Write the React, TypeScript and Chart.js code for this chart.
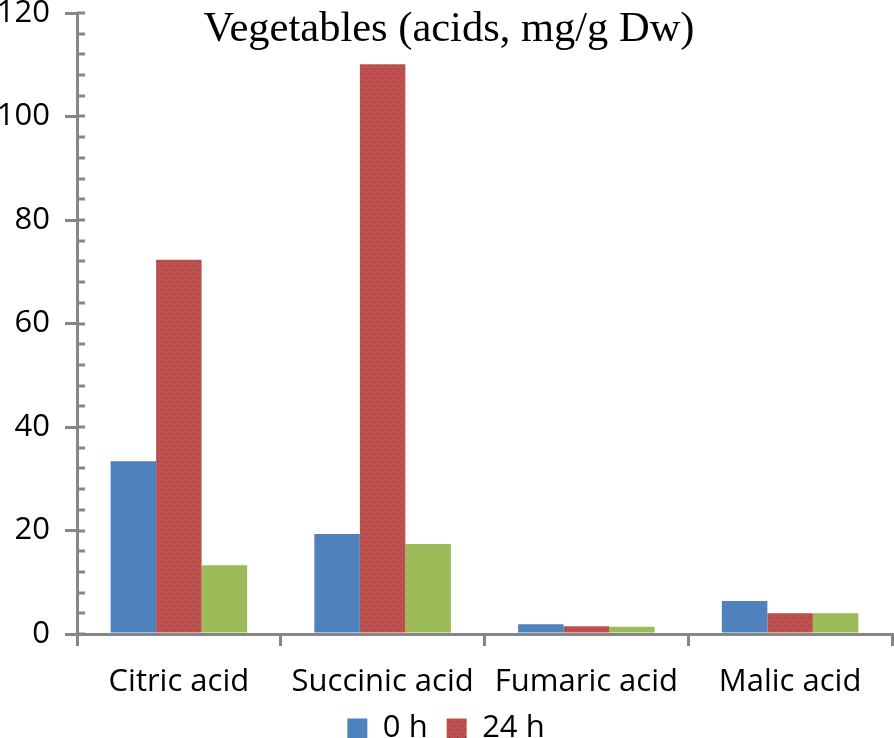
import React, { useEffect, useRef } from "react";
import { Chart, registerables } from "chart.js";

Chart.register(...registerables);

const categories = ["Citric acid", "Succinic acid", "Fumaric acid", "Malic acid"];
const seriesLabels = ["0 h", "24 h", "48 h"];
const values0h = [33.4, 19.3, 1.9, 6.4];
const values24h = [72.3, 110.1, 1.5, 4.0];
const values48h = [13.3, 17.4, 1.4, 4.0];
const yMin = 0;
const yMax = 120;
const yStep = 20;
const yMinorStep = 4;
const titleText = "Vegetables (acids, mg/g Dw)";

const BLUE = "#4F81BD";
const RED = "#C0504D";
const GREEN = "#9BBB59";
const AXIS = "#868686";
const LABEL_FONT = "'Open Sans', sans-serif";

function makePattern(bg: string, dot: string): CanvasPattern | string {
  const c = document.createElement("canvas");
  c.width = 8;
  c.height = 8;
  const g = c.getContext("2d");
  if (!g) return bg;
  g.fillStyle = bg;
  g.fillRect(0, 0, 8, 8);
  g.fillStyle = dot;
  g.fillRect(1, 1, 1, 1);
  g.fillRect(5, 5, 1, 1);
  const p = g.createPattern(c, "repeat");
  return p || bg;
}

const minorTicksPlugin = {
  id: "minorTicks",
  afterDatasetsDraw(chart: any) {
    const y = chart.scales.y;
    const area = chart.chartArea;
    const ctx = chart.ctx;
    ctx.save();
    ctx.strokeStyle = AXIS;
    ctx.lineWidth = 3;
    for (let v = yMin; v <= yMax; v += yMinorStep) {
      const py = Math.round(y.getPixelForValue(v));
      ctx.beginPath();
      ctx.moveTo(area.left, py);
      ctx.lineTo(area.left + 8, py);
      ctx.stroke();
    }
    ctx.restore();
  },
};

const titlePlugin = {
  id: "innerTitle",
  afterDraw(chart: any) {
    const ctx = chart.ctx;
    ctx.save();
    ctx.fillStyle = "#000";
    ctx.font = "42.5px 'Liberation Serif', 'Times New Roman', serif";
    ctx.textAlign = "center";
    ctx.textBaseline = "alphabetic";
    ctx.fillText(titleText, chart.width / 2 + 2, 41);
    ctx.restore();
  },
};

export default function App() {
  const ref = useRef<HTMLCanvasElement | null>(null);

  useEffect(() => {
    document.body.style.margin = "0";
    const canvas = ref.current;
    if (!canvas) return;
    const redPattern = makePattern(RED, "#2b4548");
    const chart = new Chart(canvas, {
      type: "bar",
      data: {
        labels: categories,
        datasets: [
          { label: seriesLabels[0], data: values0h, backgroundColor: BLUE, borderWidth: 0 },
          { label: seriesLabels[1], data: values24h, backgroundColor: redPattern as any, borderWidth: 0 },
          { label: seriesLabels[2], data: values48h, backgroundColor: GREEN, borderWidth: 0 },
        ],
      },
      options: {
        responsive: false,
        animation: false,
        devicePixelRatio: 1,
        layout: { padding: { top: 0, right: 2, left: 0, bottom: 0 } },
        datasets: { bar: { categoryPercentage: 0.67, barPercentage: 1.0 } },
        plugins: {
          title: { display: false },
          tooltip: { enabled: false },
          legend: {
            display: true,
            position: "bottom",
            labels: {
              boxWidth: 20,
              boxHeight: 20,
              padding: 19,
              color: "#000",
              font: { family: LABEL_FONT, size: 31 },
              filter: (item: any) => item.datasetIndex < 2,
            },
          },
        },
        scales: {
          x: {
            afterFit: (s: any) => {
              s.height = 60;
            },
            grid: {
              display: true,
              drawOnChartArea: false,
              drawTicks: true,
              tickLength: 12,
              color: AXIS,
              lineWidth: 3,
              offset: true,
            },
            border: { display: true, color: AXIS, width: 3 },
            ticks: {
              color: "#000",
              padding: 18,
              maxRotation: 0,
              autoSkip: false,
              font: { family: LABEL_FONT, size: 31 },
            },
          },
          y: {
            min: yMin,
            max: yMax,
            afterFit: (s: any) => {
              s.width = 77;
              s.paddingTop = 13;
              s.paddingBottom = 0;
            },
            grid: {
              display: true,
              drawOnChartArea: false,
              drawTicks: true,
              tickLength: 12,
              color: AXIS,
              lineWidth: 3,
            },
            border: { display: true, color: AXIS, width: 3 },
            ticks: {
              stepSize: yStep,
              color: "#000",
              padding: 15,
              font: { family: LABEL_FONT, size: 31 },
            },
          },
        },
      },
      plugins: [minorTicksPlugin, titlePlugin],
    });
    return () => chart.destroy();
  }, []);

  return (
    <div style={{ position: "absolute", left: 0, top: 0, width: 894, height: 754 }}>
      <canvas ref={ref} width={894} height={754} style={{ display: "block" }} />
    </div>
  );
}
